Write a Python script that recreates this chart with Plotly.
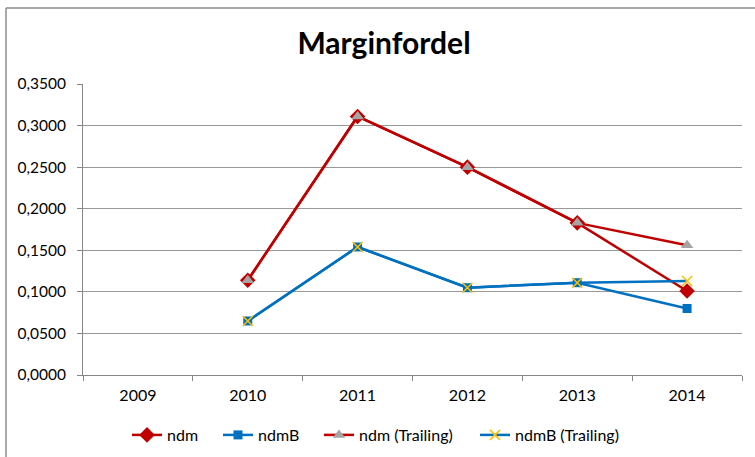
import plotly.graph_objects as go

years = ["2009", "2010", "2011", "2012", "2013", "2014"]
ndm = [None, 0.114, 0.311, 0.250, 0.183, 0.101]
ndmB = [None, 0.065, 0.154, 0.105, 0.111, 0.080]
ndm_trailing = [None, 0.114, 0.311, 0.250, 0.183, 0.156]
ndmB_trailing = [None, 0.065, 0.154, 0.105, 0.111, 0.113]
y_ticks = [0, 0.05, 0.10, 0.15, 0.20, 0.25, 0.30, 0.35]
y_labels = ["0,0000", "0,0500", "0,1000", "0,1500", "0,2000", "0,2500", "0,3000", "0,3500"]

RED = "#C00000"
BLUE = "#0070C0"
FONT = "Lato"

W, H = 755, 457
L, R, T, B = 83, 13, 84, 82
pw = W - L - R
ph = H - T - B

fig = go.Figure()
fig.add_trace(go.Scatter(x=years, y=ndm, name="ndm", mode="lines+markers", legend="legend",
                         line=dict(color=RED, width=2.5),
                         marker=dict(symbol="diamond", size=12, color=RED)))
fig.add_trace(go.Scatter(x=years, y=ndmB, name="ndmB", mode="lines+markers", legend="legend2",
                         line=dict(color=BLUE, width=2.5),
                         marker=dict(symbol="square", size=9, color=BLUE)))
fig.add_trace(go.Scatter(x=years, y=ndm_trailing, name="ndm (Trailing)", mode="lines+markers",
                         legend="legend3",
                         line=dict(color=RED, width=2.5),
                         marker=dict(symbol="triangle-up", size=11, color="#A5A5A5")))
fig.add_trace(go.Scatter(x=years, y=ndmB_trailing, name="ndmB (Trailing)", mode="lines+markers",
                         legend="legend4",
                         line=dict(color=BLUE, width=2.5),
                         marker=dict(symbol="x-thin", size=10, line=dict(color="#FFC000", width=1.5))))


def leg(px):
    return dict(orientation="h", x=(px - 5) / W, xref="container", xanchor="left",
                y=1 - 435 / H, yref="container", yanchor="middle",
                font=dict(family=FONT, size=16), itemwidth=30, bgcolor="rgba(0,0,0,0)")


fig.update_layout(
    width=W, height=H,
    margin=dict(l=L, r=R, t=T, b=B, autoexpand=False),
    paper_bgcolor="white", plot_bgcolor="white",
    font=dict(family=FONT, size=16, color="#000000"),
    title=dict(text="<b>Marginfordel</b>", x=384 / W, xanchor="center",
               y=1 - 43 / H, yanchor="middle",
               font=dict(family=FONT, size=30, color="#000000")),
    showlegend=True,
    legend=leg(132), legend2=leg(223), legend3=leg(324), legend4=leg(480),
    xaxis=dict(type="category", showgrid=False, showline=True, linecolor="#868686",
               linewidth=1, ticks="outside", tickson="boundaries", ticklen=5,
               tickcolor="#868686", tickfont=dict(family=FONT, size=16),
               ticklabelstandoff=6,
               range=[-0.5, 5.5], fixedrange=True),
    yaxis=dict(range=[0, 0.35], tickvals=y_ticks, ticktext=y_labels,
               showgrid=True, gridcolor="#999999", gridwidth=1,
               showline=True, linecolor="#868686", linewidth=1,
               ticks="outside", ticklen=5, tickcolor="#868686",
               ticklabelstandoff=8,
               tickfont=dict(family=FONT, size=15.5), zeroline=False),
)

# chart frame (top and left border visible)
fig.add_shape(type="line", xref="paper", yref="paper",
              x0=(6 - L) / pw, x1=(W + 5 - L) / pw,
              y0=(H - B - 8) / ph, y1=(H - B - 8) / ph,
              line=dict(color="#8C8C8C", width=1.5))
fig.add_shape(type="line", xref="paper", yref="paper",
              x0=(6 - L) / pw, x1=(6 - L) / pw,
              y0=(H - B - 8) / ph, y1=(H - B - H - 5) / ph,
              line=dict(color="#8C8C8C", width=1.5))

fig.write_html("out.html", config={"displayModeBar": False},
               post_script="document.body.style.margin='0';")
